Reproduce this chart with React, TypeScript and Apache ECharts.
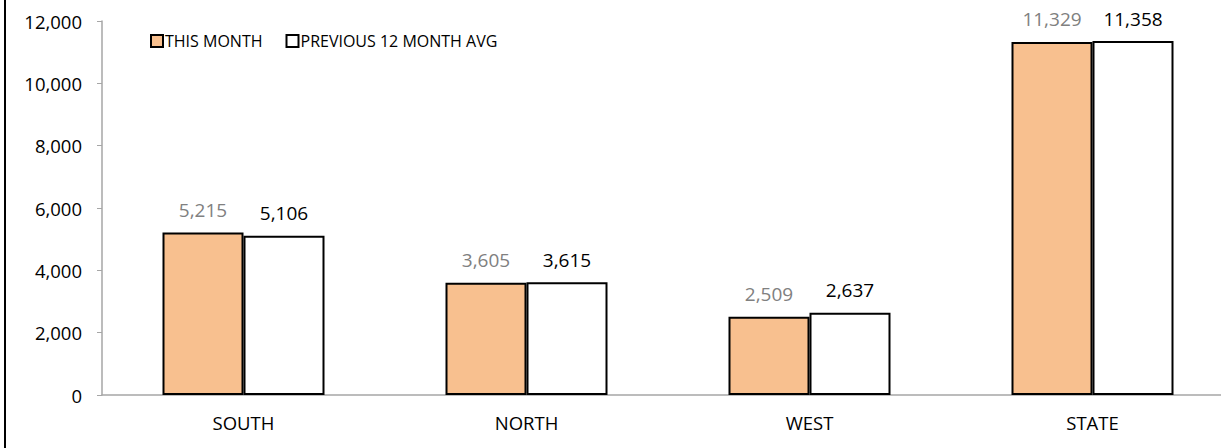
import React, { useEffect, useRef } from "react";
import * as echarts from "echarts";

const categories = ["SOUTH", "NORTH", "WEST", "STATE"];
const thisMonth = [5215, 3605, 2509, 11329];
const prevAvg = [5106, 3615, 2637, 11358];
const seriesNames = ["THIS MONTH", "PREVIOUS 12 MONTH AVG"];

const fmt = (v: number) => v.toLocaleString("en-US");
const FONT = "'Open Sans', 'Noto Sans', sans-serif";

export default function App() {
  const ref = useRef<HTMLDivElement>(null);
  useEffect(() => {
    if (!ref.current) return;
    const chart = echarts.init(ref.current, null, { renderer: "svg" });
    chart.setOption({
      animation: false,
      textStyle: { fontFamily: FONT },
      grid: { left: 102, right: 6, top: 21, bottom: 53 },
      graphic: [
        { type: "rect", shape: { x: 4, y: 0, width: 2, height: 448 }, style: { fill: "#000" } },
      ],
      legend: {
        left: 145,
        top: 28,
        itemWidth: 12,
        itemHeight: 12,
        itemGap: 23,
        icon: "rect",
        itemStyle: { borderColor: "#000", borderWidth: 2 },
        textStyle: { fontSize: 16, color: "#000", fontFamily: FONT, padding: [0, 0, 0, -3] },
        data: seriesNames,
      },
      xAxis: {
        type: "category",
        data: categories,
        axisLine: { lineStyle: { color: "#a6a6a6", width: 1.5 } },
        axisTick: { show: false },
        axisLabel: { fontSize: 18.5, color: "#000", margin: 18, fontFamily: FONT },
      },
      yAxis: {
        type: "value",
        min: 0,
        max: 12000,
        interval: 2000,
        splitLine: { show: false },
        axisLine: { show: true, lineStyle: { color: "#a6a6a6", width: 1.5 } },
        axisTick: { show: true, length: 5, lineStyle: { color: "#a6a6a6" } },
        axisLabel: { fontSize: 18.5, color: "#000", margin: 20, formatter: (v: number) => fmt(v), fontFamily: FONT },
      },
      series: [
        {
          name: seriesNames[0],
          type: "bar",
          data: thisMonth,
          barWidth: 81,
          barGap: "0%",
          itemStyle: { color: "#F8C08F", borderColor: "#000", borderWidth: 2 },
          label: {
            show: true,
            position: "top",
            distance: 13,
            fontSize: 19,
            color: "#808080",
            fontFamily: FONT,
            formatter: (p: any) => fmt(p.value),
          },
        },
        {
          name: seriesNames[1],
          type: "bar",
          data: prevAvg,
          barWidth: 81,
          itemStyle: { color: "#fff", borderColor: "#000", borderWidth: 2 },
          label: {
            show: true,
            position: "top",
            distance: 13,
            fontSize: 19,
            color: "#000",
            fontFamily: FONT,
            formatter: (p: any) => fmt(p.value),
          },
        },
      ],
    });
    return () => chart.dispose();
  }, []);
  return (
    <div style={{ position: "fixed", left: 0, top: 0, width: 1221, height: 448, overflow: "hidden", background: "#fff" }}>
      <div ref={ref} style={{ position: "absolute", left: 0, top: 0, width: 1240, height: 448 }} />
    </div>
  );
}
